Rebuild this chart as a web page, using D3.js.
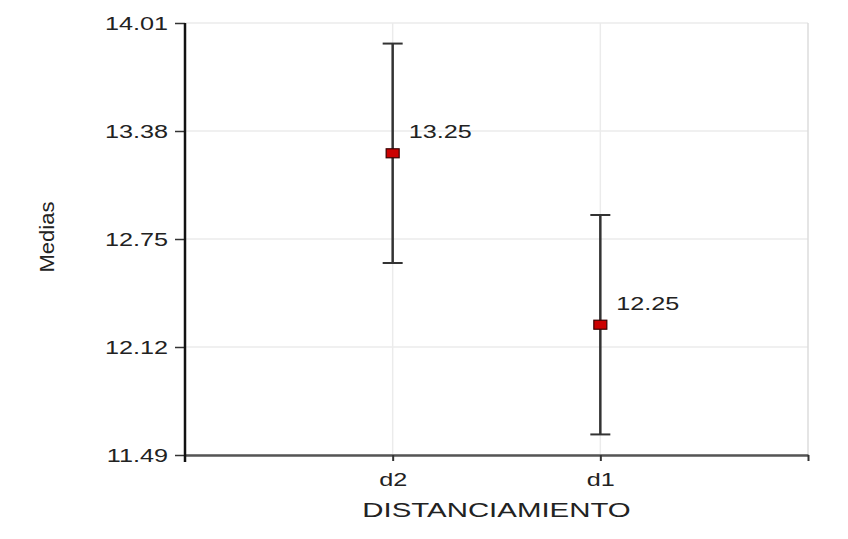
<!DOCTYPE html>
<html>
<head>
<meta charset="utf-8">
<script src="https://cdn.jsdelivr.net/npm/d3@7/dist/d3.min.js"></script>
<style>
  html, body { margin: 0; padding: 0; background: #fff; }
  svg { display: block; font-family: "Liberation Sans", Arial, sans-serif; }
</style>
</head>
<body>
<svg id="chart" width="848" height="539"></svg>
<script>
// Means with their error-bar bounds, one entry per category
const categories = ["d2", "d1"];
const means = [13.25, 12.25];
const lowerBounds = [12.61, 11.61];
const upperBounds = [13.89, 12.89];
const yTickValues = [11.49, 12.12, 12.75, 13.38, 14.01];
const yDomain = [11.49, 14.01];
const xTitle = "DISTANCIAMIENTO";
const yTitle = "Medias";

const svg = d3.select("#chart");
const plot = { left: 185, right: 808, top: 23, bottom: 455 };
const textColor = "#222";
const stretch = 1.4; // wide lettering used throughout the chart

// x: categories sit at 1..n on a 0..n+1 slot axis
const x = d3.scaleLinear().domain([0, categories.length + 1]).range([plot.left, plot.right]);
const y = d3.scaleLinear().domain(yDomain).range([plot.bottom, plot.top]);

function widen(sel) {
  sel.each(function () {
    const len = this.getComputedTextLength();
    d3.select(this).attr("textLength", len * stretch).attr("lengthAdjust", "spacingAndGlyphs");
  });
}

// grid lines
const grid = svg.append("g");
grid.selectAll("line.h").data(yTickValues).join("line")
  .attr("x1", plot.left).attr("x2", plot.right)
  .attr("y1", d => y(d)).attr("y2", d => y(d))
  .attr("stroke", "#ebebeb").attr("stroke-width", 1.5);
grid.selectAll("line.v").data(d3.range(1, categories.length + 2)).join("line")
  .attr("x1", d => x(d)).attr("x2", d => x(d))
  .attr("y1", plot.top).attr("y2", plot.bottom)
  .attr("stroke", (d, i) => i === categories.length ? "#dcdcdc" : "#ebebeb")
  .attr("stroke-width", 1.5);

// x axis
const xAxis = svg.append("g")
  .attr("transform", `translate(0,${plot.bottom})`)
  .call(d3.axisBottom(x)
    .tickValues(d3.range(1, categories.length + 2))
    .tickFormat(i => categories[i - 1] || "")
    .tickSize(6).tickSizeOuter(0).tickPadding(12));
xAxis.select(".domain").attr("stroke", "#555").attr("stroke-width", 2.5);
xAxis.selectAll(".tick line").attr("stroke", "#333").attr("stroke-width", 2);
xAxis.selectAll(".tick text")
  .attr("font-size", 18).attr("fill", textColor)
  .attr("font-family", "Liberation Sans, Arial, sans-serif")
  .call(widen);

// y axis
const yAxis = svg.append("g")
  .attr("transform", `translate(${plot.left},0)`)
  .call(d3.axisLeft(y)
    .tickValues(yTickValues)
    .tickFormat(d3.format(".2f"))
    .tickSize(10).tickSizeOuter(0).tickPadding(7));
yAxis.select(".domain").remove();
yAxis.append("line")
  .attr("x1", 0).attr("x2", 0)
  .attr("y1", plot.top).attr("y2", plot.bottom + 7)
  .attr("stroke", "#111").attr("stroke-width", 2.5);
yAxis.selectAll(".tick line").attr("stroke", "#333").attr("stroke-width", 1.5);
yAxis.selectAll(".tick text")
  .attr("font-size", 18).attr("fill", textColor)
  .attr("font-family", "Liberation Sans, Arial, sans-serif")
  .attr("dy", "0.36em")
  .call(widen);

// error bars
const bars = svg.append("g").selectAll("g").data(categories).join("g");
bars.append("line")
  .attr("x1", (d, i) => x(i + 1)).attr("x2", (d, i) => x(i + 1))
  .attr("y1", (d, i) => y(upperBounds[i])).attr("y2", (d, i) => y(lowerBounds[i]))
  .attr("stroke", "#333").attr("stroke-width", 2.5);
[upperBounds, lowerBounds].forEach(bound => {
  bars.append("line")
    .attr("x1", (d, i) => x(i + 1) - 10).attr("x2", (d, i) => x(i + 1) + 10)
    .attr("y1", (d, i) => y(bound[i])).attr("y2", (d, i) => y(bound[i]))
    .attr("stroke", "#333").attr("stroke-width", 2);
});

// mean markers
bars.append("rect")
  .attr("x", (d, i) => x(i + 1) - 6.5).attr("y", (d, i) => y(means[i]) - 4.5)
  .attr("width", 13).attr("height", 9)
  .attr("fill", "#cc0000").attr("stroke", "#3a0000").attr("stroke-width", 1.2);

// value labels
bars.append("text")
  .attr("x", (d, i) => x(i + 1) + 16).attr("y", (d, i) => y(means[i]) - 15)
  .attr("font-size", 18).attr("fill", textColor)
  .text((d, i) => d3.format(".2f")(means[i]))
  .call(widen);

// axis titles
svg.append("text")
  .attr("x", (x(1) + x(2)) / 2)
  .attr("y", 517)
  .attr("text-anchor", "middle")
  .attr("font-size", 21).attr("fill", textColor)
  .text(xTitle)
  .call(widen);

svg.append("text")
  .attr("transform", `translate(54,${(plot.top + plot.bottom) / 2 - 2}) scale(${stretch},1) rotate(-90)`)
  .attr("text-anchor", "middle")
  .attr("font-size", 15).attr("fill", textColor)
  .attr("textLength", 71).attr("lengthAdjust", "spacingAndGlyphs")
  .text(yTitle);
</script>
</body>
</html>
